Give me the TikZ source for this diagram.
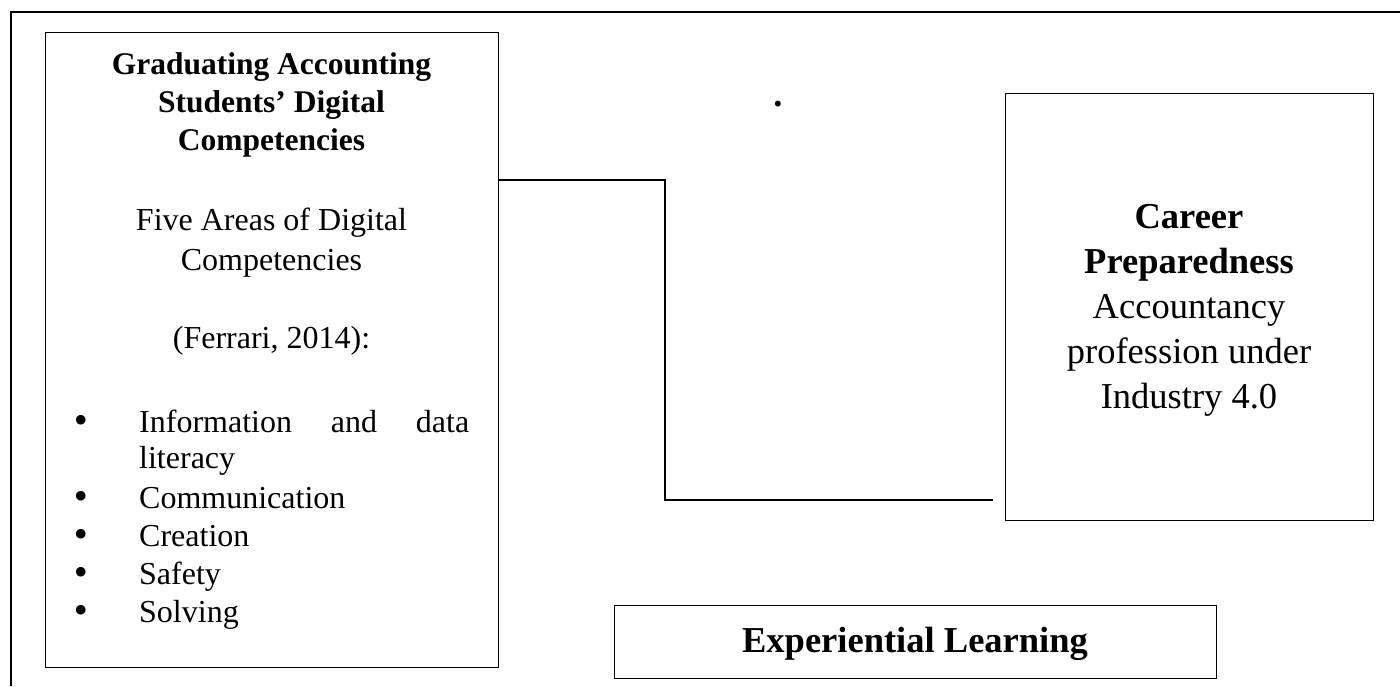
\documentclass[tikz,border=0pt]{standalone}
\usepackage{fontspec}
\setmainfont{Liberation Serif}
\newfontfamily\bulfam{DejaVu Sans}
\newcommand\hdfont{\bfseries\fontsize{31.5}{38}\selectfont}
\newcommand\bdfont{\fontsize{32}{38}\selectfont}
\newcommand\blfont{\bulfam\fontsize{33}{38}\selectfont}
\newcommand\rbfont{\bfseries\fontsize{36.5}{45}\selectfont}
\newcommand\rtfont{\fontsize{36.5}{45}\selectfont}
\begin{document}
\begin{tikzpicture}[x=1pt,y=-1pt,
  box/.style={draw, line width=1.2pt, inner sep=0pt, anchor=north west},
  conn/.style={draw, line width=1.2pt},
  txt/.style={inner sep=0pt, anchor=base},
  bul/.style={inner sep=0pt, anchor=base, font=\blfont},
  lefttxt/.style={inner sep=0pt, anchor=base west}]
\useasboundingbox (0,0) rectangle (1400,686);
% outer frame (top and left edges)
\draw[line width=2pt] (1400,12) -- (11,12) -- (11,686);
% boxes
\node[box, minimum width=453pt, minimum height=635pt] (left) at (45,32) {};
\node[box, minimum width=368pt, minimum height=427pt] (right) at (1005,93) {};
\node[box, minimum width=602pt, minimum height=73pt] (exp) at (614,605) {};
% left box heading
\node[txt, font=\hdfont] (h1) at (271.5,74) {Graduating Accounting};
\node[txt, font=\hdfont] (h2) at (271.5,112) {Students’ Digital};
\node[txt, font=\hdfont] (h3) at (271.5,150) {Competencies};
\node[txt, font=\bdfont] (b1) at (271.5,230) {Five Areas of Digital};
\node[txt, font=\bdfont] (b2) at (271.5,270) {Competencies};
\node[txt, font=\bdfont] (b3) at (271.5,348) {(Ferrari, 2014):};
% bullets
\foreach \yy/\nm in {432/p1,508/p2,546/p3,584/p4,622/p5}{
  \node[bul] (\nm) at (81,\yy) {•};
}
\node[lefttxt, font=\bdfont] (l1) at (139,432) {\makebox[330pt][s]{Information and data}};
\node[lefttxt, font=\bdfont] (l2) at (139,468) {literacy};
\node[lefttxt, font=\bdfont] (l3) at (139,508) {Communication};
\node[lefttxt, font=\bdfont] (l4) at (139,546) {Creation};
\node[lefttxt, font=\bdfont] (l5) at (139,584) {Safety};
\node[lefttxt, font=\bdfont] (l6) at (139,622) {Solving};
% right box text
\node[txt, font=\rbfont] (r1) at (1189,228) {Career};
\node[txt, font=\rbfont] (r2) at (1189,273) {Preparedness};
\node[txt, font=\rtfont] (r3) at (1189,318) {Accountancy};
\node[txt, font=\rtfont] (r4) at (1189,363) {profession under};
\node[txt, font=\rtfont] (r5) at (1189,408) {Industry 4.0};
% experiential learning
\node[txt, font=\rbfont] (e1) at (915,652) {Experiential Learning};
% stray dot
\node[txt, font=\rbfont] (dot) at (778,106) {.};
% connector
\coordinate (hy) at (0,180);
\coordinate (bend) at (665,500);
\coordinate (cEnd) at (993,500);
\draw[conn] (left.east |- hy) -| (bend) -- (cEnd);
\end{tikzpicture}
\end{document}
